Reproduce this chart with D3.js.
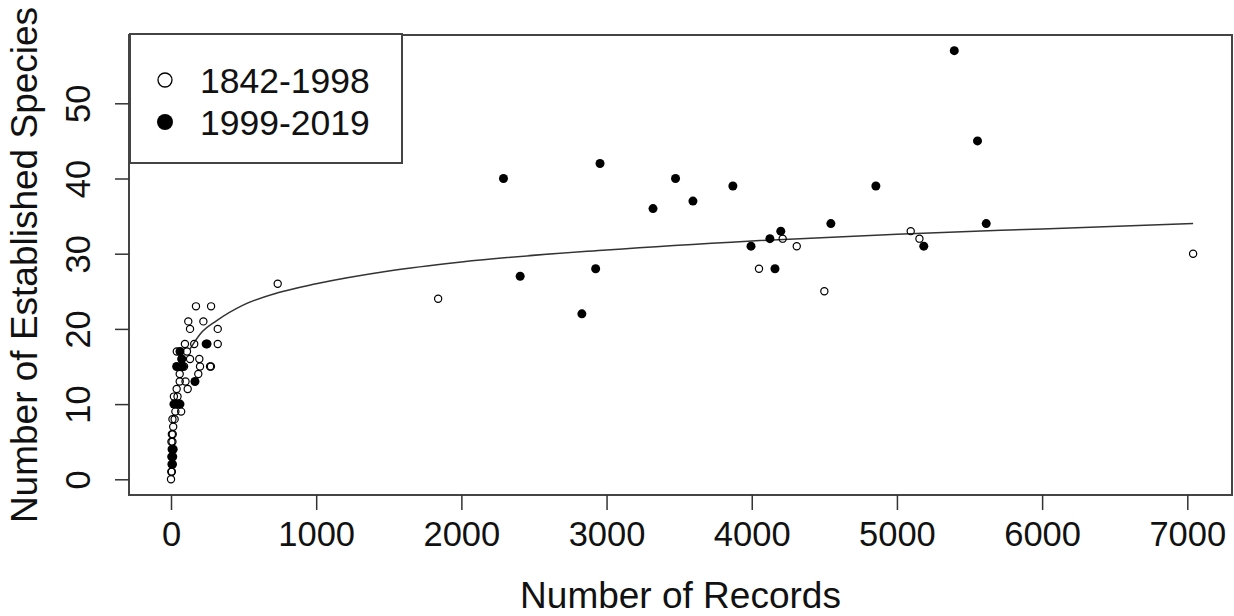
<!DOCTYPE html>
<html lang="en">
<head>
    <meta charset="UTF-8">
    <title>Established species vs records</title>
    <script src="https://cdn.jsdelivr.net/npm/d3@7"></script>
    <style>
        body { margin: 0; background: #fff; }
        svg { display: block; font-family: "Liberation Sans", Arial, sans-serif; }
    </style>
</head>
<body>
    <svg width="1234" height="616"></svg>

    <script>
        // open circles, 1842-1998  [records, species]
        const early = [
            [0, 0], [2, 1], [6, 1], [4, 2], [9, 2], [3, 3], [6, 3], [5, 4], [8, 4], [3, 5], [10, 5],
            [6, 6], [12, 6], [15, 7], [25, 8], [10, 8], [30, 9], [70, 9], [50, 10], [20, 11], [45, 11],
            [39, 12], [115, 12], [100, 13], [60, 13], [188, 14], [60, 14], [90, 15], [200, 15],
            [269, 15], [275, 15], [74, 16], [131, 16], [195, 16], [110, 17], [40, 17], [96, 18],
            [160, 18], [240, 18], [250, 18], [322, 18], [131, 20], [322, 20], [119, 21], [223, 21],
            [172, 23], [276, 23], [735, 26], [1840, 24], [4050, 28], [4213, 32], [4310, 31],
            [4500, 25], [5095, 33], [5155, 32], [7040, 30]
        ];
        // filled circles, 1999-2019
        const recent = [
            [10, 2], [15, 4], [12, 3], [20, 10], [45, 10], [62, 10], [39, 15], [80, 15], [74, 16],
            [62, 17], [165, 13], [246, 18],
            [2290, 40], [2405, 27], [2955, 42], [2830, 22], [2925, 28], [3320, 36], [3475, 40],
            [3595, 37], [3870, 39], [3995, 31], [4125, 32], [4160, 28], [4200, 33], [4545, 34],
            [4855, 39], [5185, 31], [5395, 57], [5555, 45], [5615, 34]
        ];
        // fitted curve
        const fitLine = [
            [130, 17.3], [200, 19.3], [315, 21.1], [500, 23.2], [735, 24.8], [1000, 26.0],
            [1500, 27.7], [2000, 28.9], [3000, 30.5], [4000, 31.7], [5000, 32.6], [6000, 33.3],
            [7040, 34.0]
        ];
        const xTicks = [0, 1000, 2000, 3000, 4000, 5000, 6000, 7000];
        const yTicks = [0, 10, 20, 30, 40, 50];
        const legendLabels = ['1842-1998', '1999-2019'];

        const box = { left: 129, right: 1232, top: 35, bottom: 495 };
        const svg = d3.select('svg');

        const x = d3.scaleLinear().domain([0, 7000]).range([171, 1187.3]);
        const y = d3.scaleLinear().domain([0, 50]).range([479.3, 103.3]);

        // plot frame
        svg.append('rect')
            .attr('x', box.left).attr('y', box.top)
            .attr('width', box.right - box.left).attr('height', box.bottom - box.top)
            .attr('fill', 'none').attr('stroke', '#444').attr('stroke-width', 2);

        // x axis
        const xAxis = svg.append('g')
            .attr('transform', `translate(0, ${box.bottom})`)
            .call(d3.axisBottom(x).tickValues(xTicks).tickSize(15).tickPadding(12).tickFormat(d3.format('d')));
        xAxis.select('.domain').remove();
        xAxis.selectAll('line').attr('stroke', '#333').attr('stroke-width', 1.5);
        xAxis.selectAll('text').attr('font-size', 34.5).attr('fill', '#111')
            .attr('font-family', '"Liberation Sans", Arial, sans-serif');

        // y axis
        const yAxis = svg.append('g')
            .attr('transform', `translate(${box.left}, 0)`)
            .call(d3.axisLeft(y).tickValues(yTicks).tickSize(14));
        yAxis.select('.domain').remove();
        yAxis.selectAll('line').attr('stroke', '#333').attr('stroke-width', 1.5);
        yAxis.selectAll('text').remove();
        yAxis.selectAll('.tick').append('text')
            .attr('transform', 'translate(-39, 0) rotate(-90)')
            .attr('text-anchor', 'middle')
            .attr('font-size', 34.5).attr('fill', '#111')
            .attr('font-family', '"Liberation Sans", Arial, sans-serif')
            .text(d => d);

        // axis titles
        svg.append('text')
            .attr('x', (box.left + box.right) / 2).attr('y', 608)
            .attr('text-anchor', 'middle').attr('font-size', 37).attr('fill', '#111')
            .text('Number of Records');
        svg.append('text')
            .attr('transform', `translate(37, ${(box.top + box.bottom) / 2}) rotate(-90)`)
            .attr('text-anchor', 'middle').attr('font-size', 37).attr('fill', '#111')
            .text('Number of Established Species');

        // fitted curve
        svg.append('path')
            .datum(fitLine)
            .attr('fill', 'none').attr('stroke', '#333').attr('stroke-width', 1.5)
            .attr('d', d3.line().x(d => x(d[0])).y(d => y(d[1])).curve(d3.curveMonotoneX));

        // points
        svg.append('g').selectAll('circle')
            .data(early).enter().append('circle')
            .attr('cx', d => x(d[0])).attr('cy', d => y(d[1]))
            .attr('r', 3.6)
            .attr('fill', 'none').attr('stroke', '#000').attr('stroke-width', 1.2);

        svg.append('g').selectAll('circle')
            .data(recent).enter().append('circle')
            .attr('cx', d => x(d[0])).attr('cy', d => y(d[1]))
            .attr('r', 4.5)
            .attr('fill', '#000');

        // legend
        svg.append('rect')
            .attr('x', 130).attr('y', 34).attr('width', 272).attr('height', 129)
            .attr('fill', '#fff').attr('stroke', '#444').attr('stroke-width', 2);

        const legend = svg.append('g').selectAll('g')
            .data(legendLabels).enter().append('g')
            .attr('transform', (d, i) => `translate(165, ${80 + i * 42})`);
        legend.append('circle')
            .attr('r', (d, i) => i === 0 ? 7 : 8)
            .attr('fill', (d, i) => i === 0 ? 'none' : '#000')
            .attr('stroke', '#000').attr('stroke-width', (d, i) => i === 0 ? 1.3 : 0);
        legend.append('text')
            .attr('x', 35).attr('dy', '0.36em')
            .attr('font-size', 35.5).attr('fill', '#111')
            .text(d => d);
    </script>
</body>
</html>
